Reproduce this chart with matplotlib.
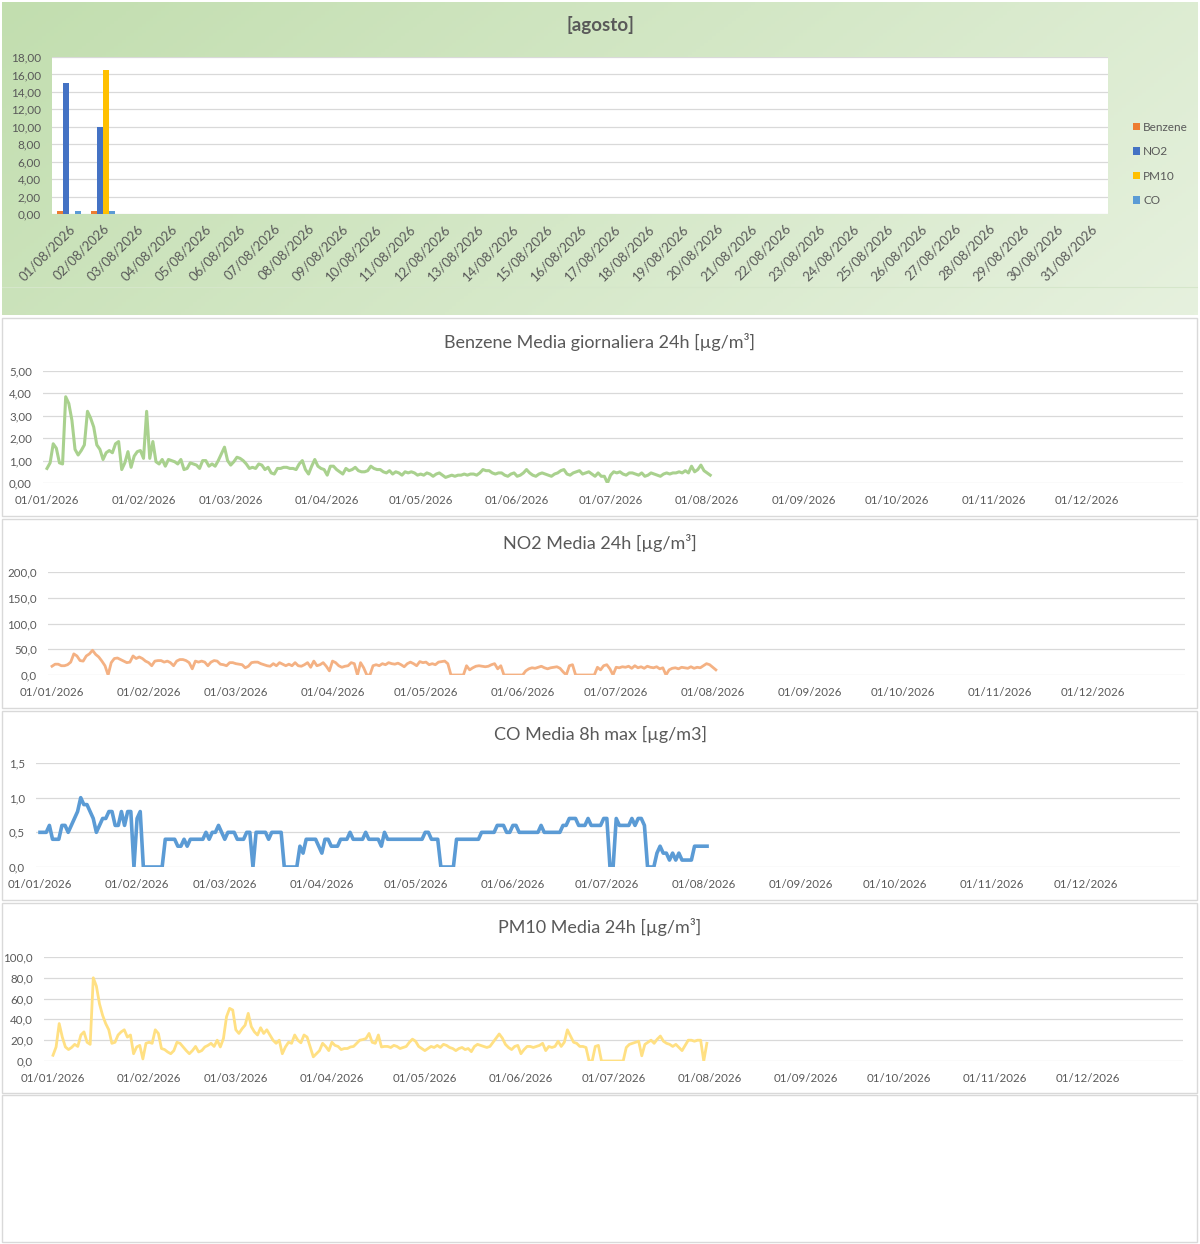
import numpy as np
import matplotlib
matplotlib.use('Agg')
import matplotlib.pyplot as plt
import matplotlib.dates as mdates
from matplotlib.patches import Rectangle
from matplotlib.colors import to_rgb
from matplotlib.ticker import FuncFormatter, MultipleLocator

plt.rcParams['font.family'] = ['Lato', 'DejaVu Sans']

# ---- top chart: August daily values ----
aug_days = ['%02d/08/2026' % d for d in range(1, 32)]
aug_benzene = [0.4, 0.3]
aug_no2 = [15.0, 10.0]
aug_pm10 = [np.nan, 16.5]
aug_co = [0.3, 0.3]

# ---- daily series from 01/01/2026 ----
benzene = [
    # jan
    0.65, 0.9, 1.75, 1.55, 0.9, 0.85, 3.85, 3.55, 2.8, 1.5,
    1.25, 1.45, 1.7, 3.2, 2.9, 2.5, 1.7, 1.5, 1.05, 1.35,
    1.45, 1.35, 1.75, 1.85, 0.6, 0.9, 1.4, 0.7, 1.2, 1.4, 1.45,
    # feb
    1.1, 3.2, 1.1, 1.85, 0.95, 0.85, 1.05, 0.75, 1.05, 1.0,
    0.95, 0.85, 1.05, 0.6, 0.65, 0.9, 0.85, 0.8, 0.65, 1.0,
    1.0, 0.75, 0.85, 0.75, 1.0, 1.3, 1.6, 1.0,
    # mar
    0.8, 0.95, 1.15, 1.1, 1.0, 0.85, 0.65, 0.7, 0.65, 0.85,
    0.8, 0.6, 0.7, 0.45, 0.4, 0.65, 0.65, 0.7, 0.7, 0.65,
    0.65, 0.6, 0.85, 1.0, 0.6, 0.4, 0.75, 1.05, 0.75, 0.65, 0.6,
    # apr
    0.35, 0.75, 0.75, 0.6, 0.5, 0.4, 0.65, 0.55, 0.6, 0.7,
    0.55, 0.5, 0.5, 0.55, 0.75, 0.65, 0.6, 0.6, 0.5, 0.45,
    0.55, 0.4, 0.5, 0.45, 0.35, 0.5, 0.45, 0.5, 0.45, 0.35,
    # may
    0.4, 0.35, 0.45, 0.4, 0.3, 0.4, 0.45, 0.35, 0.25, 0.3,
    0.35, 0.3, 0.35, 0.35, 0.4, 0.35, 0.4, 0.4, 0.35, 0.45,
    0.6, 0.55, 0.55, 0.45, 0.4, 0.45, 0.45, 0.35, 0.3, 0.4, 0.45,
    # jun
    0.3, 0.35, 0.45, 0.6, 0.45, 0.35, 0.3, 0.4, 0.45, 0.4,
    0.35, 0.3, 0.4, 0.45, 0.55, 0.6, 0.4, 0.35, 0.45, 0.5,
    0.55, 0.4, 0.45, 0.5, 0.4, 0.3, 0.45, 0.3, 0.3, 0.0,
    # jul
    0.35, 0.5, 0.45, 0.5, 0.4, 0.35, 0.45, 0.45, 0.4, 0.35,
    0.45, 0.3, 0.35, 0.45, 0.4, 0.35, 0.3, 0.4, 0.45, 0.4,
    0.45, 0.45, 0.5, 0.45, 0.55, 0.45, 0.75, 0.5, 0.6, 0.8, 0.55,
    # aug
    0.45, 0.35,
]

no2 = [
    # jan
    17, 21, 21, 18, 18, 20, 25, 41, 37, 28,
    27, 37, 41, 48, 40, 35, 27, 18, 0, 24,
    32, 33, 30, 27, 24, 25, 37, 32, 35, 32, 27,
    # feb
    24, 18, 27, 28, 28, 25, 27, 24, 18, 27,
    30, 30, 28, 24, 12, 27, 25, 27, 25, 18,
    25, 28, 27, 21, 20, 18, 24, 24,
    # mar
    22, 21, 20, 14, 17, 24, 25, 25, 22, 20,
    18, 17, 22, 18, 24, 21, 18, 21, 18, 24,
    18, 17, 20, 24, 15, 27, 18, 20, 24, 17, 8,
    # apr
    27, 24, 18, 15, 17, 18, 24, 22, 0, 24,
    14, 0, 0, 18, 20, 18, 22, 20, 24, 22,
    21, 23, 20, 16, 22, 25, 22, 18, 26, 24,
    # may
    25, 20, 22, 20, 25, 26, 27, 22, 0, 0,
    0, 0, 0, 18, 10, 14, 17, 18, 17, 16,
    17, 20, 22, 12, 18, 0, 0, 0, 0, 0, 0,
    # jun
    0, 8, 12, 14, 13, 15, 17, 14, 12, 14,
    15, 16, 13, 6, 0, 18, 20, 0, 0, 0,
    0, 0, 0, 0, 15, 10, 18, 20, 12, 0,
    # jul
    15, 14, 16, 15, 17, 13, 18, 14, 16, 13,
    17, 15, 14, 16, 12, 14, 0, 10, 13, 14,
    12, 15, 14, 13, 16, 13, 15, 14, 18, 22, 20,
    # aug
    15, 10,
]

co = [
    # jan
    0.5, 0.5, 0.5, 0.6, 0.4, 0.4, 0.4, 0.6, 0.6, 0.5,
    0.6, 0.7, 0.8, 1.0, 0.9, 0.9, 0.8, 0.7, 0.5, 0.6,
    0.7, 0.7, 0.8, 0.8, 0.6, 0.6, 0.8, 0.6, 0.8, 0.8, 0.0,
    # feb
    0.7, 0.8, 0.0, 0.0, 0.0, 0.0, 0.0, 0.0, 0.0, 0.4,
    0.4, 0.4, 0.4, 0.3, 0.3, 0.4, 0.3, 0.4, 0.4, 0.4,
    0.4, 0.4, 0.5, 0.4, 0.5, 0.5, 0.6, 0.5,
    # mar
    0.4, 0.5, 0.5, 0.5, 0.4, 0.4, 0.4, 0.5, 0.5, 0.0,
    0.5, 0.5, 0.5, 0.5, 0.4, 0.5, 0.5, 0.5, 0.5, 0.0,
    0.0, 0.0, 0.0, 0.0, 0.3, 0.2, 0.4, 0.4, 0.4, 0.4, 0.3,
    # apr
    0.2, 0.4, 0.4, 0.3, 0.3, 0.3, 0.4, 0.4, 0.4, 0.5,
    0.4, 0.4, 0.4, 0.4, 0.5, 0.4, 0.4, 0.4, 0.4, 0.3,
    0.5, 0.4, 0.4, 0.4, 0.4, 0.4, 0.4, 0.4, 0.4, 0.4,
    # may
    0.4, 0.4, 0.4, 0.5, 0.5, 0.4, 0.4, 0.4, 0.0, 0.0,
    0.0, 0.0, 0.0, 0.4, 0.4, 0.4, 0.4, 0.4, 0.4, 0.4,
    0.4, 0.5, 0.5, 0.5, 0.5, 0.5, 0.6, 0.6, 0.6, 0.5, 0.5,
    # jun
    0.6, 0.6, 0.5, 0.5, 0.5, 0.5, 0.5, 0.5, 0.5, 0.6,
    0.5, 0.5, 0.5, 0.5, 0.5, 0.5, 0.6, 0.6, 0.7, 0.7,
    0.7, 0.6, 0.6, 0.6, 0.7, 0.6, 0.6, 0.6, 0.6, 0.7,
    # jul
    0.7, 0.0, 0.0, 0.7, 0.6, 0.6, 0.6, 0.6, 0.7, 0.6,
    0.7, 0.7, 0.6, 0.0, 0.0, 0.0, 0.2, 0.3, 0.2, 0.2,
    0.1, 0.2, 0.1, 0.2, 0.1, 0.1, 0.1, 0.1, 0.3, 0.3, 0.3,
    # aug
    0.3, 0.3,
]

pm10 = [
    # jan
    5.5, 13.5, 36, 23, 13.5, 11, 13, 16, 14, 25,
    28, 18, 16, 80, 72, 55, 44, 36, 30, 17,
    18, 25, 28, 30, 23, 25, 7, 13.5, 15, 2, 17,
    # feb
    18, 17, 30, 26.5, 12, 11, 8.7, 7, 10, 18,
    17, 13.5, 10, 7, 10, 14, 8.7, 10, 13.5, 15,
    17, 14, 20, 13.5, 21.6, 42.6, 50.6, 49,
    # mar
    30, 26.5, 31, 34.5, 45.8, 33, 28, 25, 32, 26.5,
    30, 25, 20, 17, 20, 7, 13.5, 18, 17, 25,
    20, 17.5, 25, 23, 13.5, 4, 7, 10, 17, 14, 10,
    # apr
    18, 15, 14, 11, 12, 12, 13.5, 14, 17, 20,
    20.6, 21.6, 26.5, 18, 17, 25, 13.5, 14, 14, 13,
    15, 14, 12, 13, 14, 18, 21, 19, 14, 12,
    # may
    10, 12, 14, 13, 15, 13, 16, 15, 13, 12,
    10, 12, 13, 11, 12, 9, 14, 16, 15, 14,
    13, 14, 18, 22, 26, 22, 16, 13, 11, 14, 15,
    # jun
    7, 11, 14, 14, 13, 14, 15, 17, 10, 14,
    13, 14, 19, 14, 18, 30, 24, 18, 17, 14,
    14, 13, 0, 0, 14, 15, 0, 0, 0, 0,
    # jul
    0, 0, 0, 0, 13, 16, 17, 18, 19, 5,
    16, 18, 20, 17, 21, 24, 19, 17, 16, 14,
    16, 13, 10, 15, 20, 20, 19, 20, 20, 0, 17,
]

W, H = 1200, 1244
fig = plt.figure(figsize=(W / 100, H / 100), dpi=100)
fig.patch.set_facecolor('white')

grid_c = '#D9D9D9'
txt_c = '#595959'


def box(x0, y0, x1, y1, **kw):
    return Rectangle((x0 / W, 1 - y1 / H), (x1 - x0) / W, (y1 - y0) / H,
                     transform=fig.transFigure, **kw)


# green gradient chart area for the top chart
bg = fig.add_axes([2 / W, 1 - 315 / H, 1196 / W, 313 / H], zorder=-2)
c_left = np.array(to_rgb('#C2DEAF'))
c_right = np.array(to_rgb('#E6F1DE'))
gx = np.linspace(0, 1, 300)[None, :]
gy = np.linspace(0, 1, 100)[:, None]
t = np.clip(0.75 * gx + 0.25 * gy, 0, 1)
grad = c_left[None, None, :] * (1 - t[..., None]) + c_right[None, None, :] * t[..., None]
bg.imshow(grad, aspect='auto', extent=(0, 1, 0, 1), origin='upper')
bg.axhline(1 - 285 / 313, color='#D5E6CA', lw=0.8)
bg.set_xlim(0, 1)
bg.set_ylim(0, 1)
bg.axis('off')
fig.text(600 / W, 1 - 25 / H, '[agosto]', ha='center', va='center',
         fontsize=13.5, fontweight='bold', color=txt_c)

ax = fig.add_axes([52 / W, 1 - 214 / H, 1056 / W, 157 / H])
ax.set_facecolor('white')
x = np.arange(len(aug_days))
bw = 0.175
series = [('Benzene', aug_benzene, '#ED7D31'), ('NO2', aug_no2, '#4472C4'),
          ('PM10', aug_pm10, '#FFC000'), ('CO', aug_co, '#5B9BD5')]
for i, (name, vals, col) in enumerate(series):
    ax.bar(np.arange(len(vals)) + (i - 1.5) * bw, vals, width=bw, color=col, label=name, zorder=3)
ax.set_xlim(-0.5, len(aug_days) - 0.5)
ax.set_ylim(0, 18)
ax.yaxis.set_major_locator(MultipleLocator(2))
ax.yaxis.set_major_formatter(FuncFormatter(lambda v, p: ('%.2f' % v).replace('.', ',')))
ax.grid(axis='y', color=grid_c, lw=0.9, zorder=0)
ax.set_xticks(x)
ax.set_xticklabels(aug_days, rotation=45, ha='right', rotation_mode='anchor')
for s in ax.spines.values():
    s.set_visible(False)
ax.tick_params(length=0, colors=txt_c, labelsize=8.5)
ax.tick_params(axis='x', pad=6, labelsize=9.5)
ax.tick_params(axis='y', pad=8)
fig.legend(*ax.get_legend_handles_labels(), loc='center left',
           bbox_to_anchor=(1122 / W, 1 - 164 / H), frameon=False, fontsize=8.5,
           handlelength=0.6, handleheight=0.6, handletextpad=0.3, labelspacing=1.15,
           labelcolor=txt_c)

# ---- lower panels ----
for y0, y1 in [(318, 516), (519, 708), (711, 900), (903, 1093), (1095, 1242)]:
    fig.patches.append(box(2, y0, 1197, y1, facecolor='white', edgecolor=grid_c, lw=1, zorder=-3))

jan1 = np.datetime64('2026-01-01')
x0 = mdates.date2num(jan1)
month_ticks = [mdates.date2num(np.datetime64('2026-%02d-01' % m)) for m in range(1, 13)]

panels = [
    ('Benzene Media giornaliera 24h [µg/m³]', benzene, '#A9D18E', 2.2, 342,
     47, 1087, 43, 1183, 371, 483, 5, 1, 2),
    ('NO2 Media 24h [µg/m³]', no2, '#F4B183', 2.0, 543,
     52, 1093, 48, 1185, 572, 675, 200, 50, 1),
    ('CO Media 8h max [µg/m3]', co, '#5B9BD5', 2.6, 734,
     40, 1086, 36, 1180, 763, 867, 1.5, 0.5, 1),
    ('PM10 Media 24h [µg/m³]', pm10, '#FFE083', 2.0, 927,
     53, 1088, 44, 1183, 957, 1061, 100, 20, 1),
]

for title, vals, col, lw, ty, j_px, d_px, l_px, r_px, yt, yb, ymax, step, dec in panels:
    ppd = (d_px - j_px) / 334.0
    a = fig.add_axes([l_px / W, 1 - yb / H, (r_px - l_px) / W, (yb - yt) / H])
    dates = jan1 + np.arange(len(vals))
    a.plot(mdates.date2num(dates), vals, color=col, lw=lw, solid_joinstyle='round', zorder=3)
    a.set_xlim(x0 + (l_px - j_px) / ppd, x0 + (r_px - j_px) / ppd)
    a.set_ylim(0, ymax)
    a.yaxis.set_major_locator(MultipleLocator(step))
    a.yaxis.set_major_formatter(FuncFormatter(lambda v, p, d=dec: ('%.*f' % (d, v)).replace('.', ',')))
    a.set_xticks(month_ticks)
    a.xaxis.set_major_formatter(mdates.DateFormatter('%d/%m/%Y'))
    a.grid(axis='y', color=grid_c, lw=0.9, zorder=0)
    for s in a.spines.values():
        s.set_visible(False)
    a.tick_params(length=0, colors=txt_c, labelsize=8.3)
    a.tick_params(axis='x', pad=9)
    a.tick_params(axis='y', pad=8)
    a.set_facecolor('none')
    fig.text(600 / W, 1 - ty / H, title, ha='center', va='center', fontsize=13, color=txt_c)

fig.savefig('out.png', dpi=100)
